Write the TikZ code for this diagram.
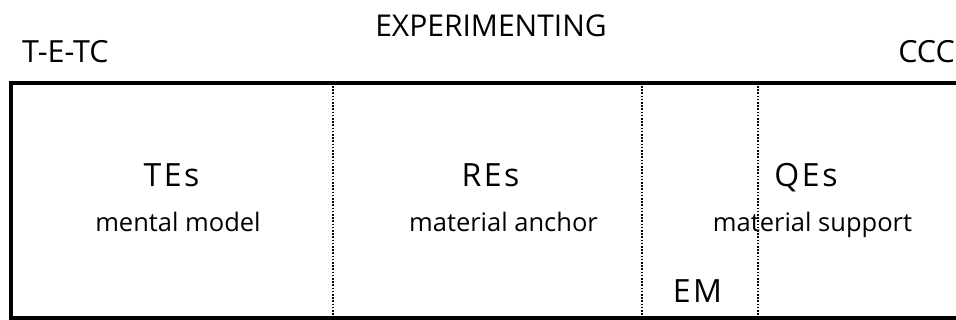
\documentclass[tikz,border=0pt]{standalone}
\usepackage{fontspec}
\setmainfont{Open Sans}
\newfontfamily\spacedfont[LetterSpace=8]{Open Sans}
\tikzstyle{heading}=[
	inner sep=0pt,
	font=\fontsize{30}{36}\selectfont
]
\tikzstyle{corner}=[
	inner sep=0pt,
	font=\fontsize{30.5}{36}\selectfont
]
\tikzstyle{kind}=[
	inner sep=0pt,
	font=\spacedfont\fontsize{32}{38}\selectfont
]
\tikzstyle{role}=[
	inner sep=0pt,
	font=\fontsize{25.5}{30}\selectfont
]
\tikzstyle{frame}=[
	line width=4pt,
	line join=miter
]
\tikzstyle{divider}=[
	line width=2pt,
	dash pattern=on 1.6pt off 1.6pt
]

\begin{document}
\begin{tikzpicture}[x=1pt,y=-1pt]
\useasboundingbox (0,0) rectangle (956,320);
% title row
\node [heading, anchor=base] (Experimenting) at (491,37) {EXPERIMENTING};
\node [corner, anchor=base west] (TETC) at (22,63) {T-E-TC};
\node [corner, anchor=base east] (CCC) at (955,63) {CCC};
% open box and its dotted dividers
\draw [frame] (958,83) -- (10.5,83) -- (10.5,318) -- (958,318);
\foreach \x/\name in {333/one,642/two,758/three} {
	\coordinate (\name top) at (\x,86);
	\coordinate (\name bottom) at (\x,316);
	\draw [divider] (\name top) -- (\name bottom);
}
% kinds of experiment
\node [kind, anchor=base] (TEs) at (171.5,187) {TEs};
\node [role, anchor=base] (MentalModel) at (178,232) {mental model};
\node [kind, anchor=base] (REs) at (490.5,187) {REs};
\node [role, anchor=base] (MaterialAnchor) at (503.5,232) {material anchor};
\node [kind, anchor=base] (QEs) at (806,187) {QEs};
\node [role, anchor=base] (MaterialSupport) at (812.5,232) {material support};
\node [kind, anchor=base] (EM) at (697.5,303) {EM};
\end{tikzpicture}
\end{document}
